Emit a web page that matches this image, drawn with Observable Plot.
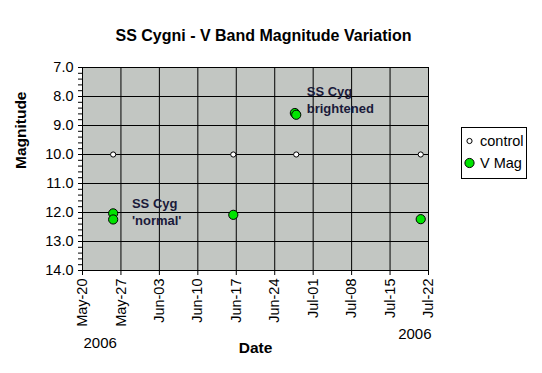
<!DOCTYPE html>
<html>
<head>
<meta charset="utf-8">
<script src="https://cdn.jsdelivr.net/npm/d3@7"></script>
<script src="https://cdn.jsdelivr.net/npm/@observablehq/plot@0.6"></script>
<style>
  html, body { margin: 0; padding: 0; background: #fff; }
  svg { display: block; }
</style>
</head>
<body>
<div id="chart"></div>
<script>
// ---- data ----
const titleText = "SS Cygni - V Band Magnitude Variation";
const controlDates = ["2006-05-25T14:00Z", "2006-06-16T11:00Z", "2006-06-27T22:00Z", "2006-07-20T14:00Z"];
const controlMag = [10.0, 10.0, 10.0, 10.0];
const vDates = ["2006-05-25T14:00Z", "2006-05-25T14:00Z", "2006-06-16T11:00Z", "2006-06-27T16:00Z", "2006-06-27T22:00Z", "2006-07-20T14:00Z"];
const vMag = [12.03, 12.24, 12.08, 8.57, 8.63, 12.23];
const xTickDates = ["2006-05-20", "2006-05-27", "2006-06-03", "2006-06-10", "2006-06-17", "2006-06-24", "2006-07-01", "2006-07-08", "2006-07-15", "2006-07-22"];
const yMajor = [7, 8, 9, 10, 11, 12, 13, 14];
const notes = [
  {date: "2006-05-29T00:00Z", mag: 11.95, text: "SS Cyg\n'normal'"},
  {date: "2006-06-29T20:00Z", mag: 8.08, text: "SS Cyg\nbrightened"}
];
const legendItems = ["control", "V Mag"];

// ---- build ----
const controlData = controlDates.map((d, i) => ({date: new Date(d), mag: controlMag[i]}));
const vData = vDates.map((d, i) => ({date: new Date(d), mag: vMag[i]}));
const ticksX = xTickDates.map(d => new Date(d + "T00:00Z"));
const yMinor = d3.range(7, 14.001, 0.2).map(v => +v.toFixed(1));
const noteData = notes.map(n => ({date: new Date(n.date), mag: n.mag, text: n.text}));
const font = "'Liberation Sans', Arial, sans-serif";

const plot = Plot.plot({
  width: 542,
  height: 373,
  marginLeft: 82,
  marginRight: 114,
  marginTop: 67,
  marginBottom: 103,
  style: {fontFamily: font, fontSize: "14.5px", color: "#000", background: "#fff"},
  x: {type: "utc", domain: [ticksX[0], ticksX[ticksX.length - 1]], label: null},
  y: {domain: [7, 14], reverse: true, label: null},
  marks: [
    Plot.frame({fill: "#c2c6c2", stroke: "#808080"}),
    Plot.gridY(yMajor, {stroke: "#000", strokeOpacity: 1}),
    Plot.gridX(ticksX, {stroke: "#000", strokeOpacity: 1}),
    Plot.ruleY([14], {stroke: "#000"}),
    Plot.ruleX([ticksX[0]], {stroke: "#000"}),
    Plot.axisY(yMinor, {tickSize: 4, tickFormat: () => "", stroke: "#000"}),
    Plot.axisY(yMajor, {tickSize: 4, tickPadding: 5, tickFormat: d3.format(".1f"), fontSize: 14.5, label: null}),
    Plot.axisX(ticksX, {tickSize: 5, tickPadding: 3, tickRotate: -90, tickFormat: d3.utcFormat("%b-%d"), fontSize: 14.5, label: null}),
    Plot.dot(controlData, {x: "date", y: "mag", r: 2.6, fill: "#fff", stroke: "#000", strokeWidth: 1}),
    Plot.dot(vData, {x: "date", y: "mag", r: 4.6, fill: "#00e400", stroke: "#000", strokeWidth: 1}),
    Plot.text(noteData, {x: "date", y: "mag", text: "text", textAnchor: "start", lineAnchor: "middle", lineHeight: 1.3, fontSize: 13, fontWeight: "bold", fill: "#1a1a3a"}),
    Plot.text([titleText], {frameAnchor: "top", dx: 8, dy: -38, fontSize: 16, fontWeight: "bold"}),
    Plot.text(["Magnitude"], {frameAnchor: "left", dx: -61, rotate: -90, fontSize: 15.5, fontWeight: "bold"}),
    Plot.text(["Date"], {frameAnchor: "bottom", dy: 82, fontSize: 15.5, fontWeight: "bold"}),
    Plot.text(["2006"], {frameAnchor: "bottom-left", dx: 1, dy: 77, textAnchor: "start", fontSize: 15}),
    Plot.text(["2006"], {frameAnchor: "bottom-right", dx: 3, dy: 68, textAnchor: "end", fontSize: 15})
  ]
});

// legend
const svg = d3.select(plot);
const lg = svg.append("g").attr("font-family", font).attr("font-size", 14.5).attr("text-anchor", "start");
lg.append("rect").attr("x", 461.5).attr("y", 127.5).attr("width", 65).attr("height", 51)
  .attr("fill", "#fff").attr("stroke", "#000");
lg.append("circle").attr("cx", 469.5).attr("cy", 141).attr("r", 2.6).attr("fill", "#fff").attr("stroke", "#000");
lg.append("text").attr("x", 480).attr("y", 141).attr("dy", "0.35em").text(legendItems[0]);
lg.append("circle").attr("cx", 469.5).attr("cy", 163).attr("r", 4.6).attr("fill", "#00e400").attr("stroke", "#000");
lg.append("text").attr("x", 480).attr("y", 163).attr("dy", "0.35em").text(legendItems[1]);

document.getElementById("chart").appendChild(plot);
</script>
</body>
</html>
